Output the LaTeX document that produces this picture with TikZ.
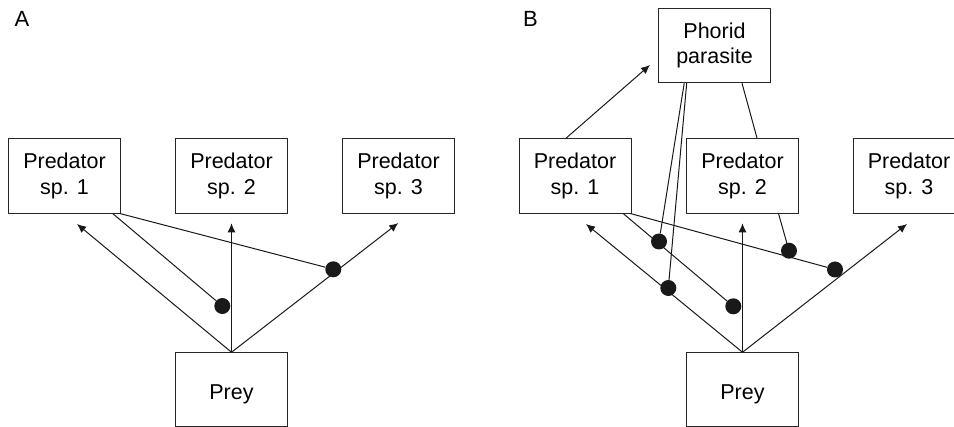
\documentclass[tikz,border=0pt]{standalone}
\usepackage{fontspec}
\setmainfont{Liberation Sans}
\usetikzlibrary{arrows.meta,calc}
\begin{document}
\begin{tikzpicture}[x=1pt,y=-1pt,
  box/.style={draw=black!85, line width=1pt, minimum width=112pt, minimum height=74.5pt,
    inner sep=0pt, align=center, font=\fontsize{21.5}{25.5}\selectfont},
  preybox/.style={box, minimum height=73.3pt, text height=21pt, text depth=0pt},
  dot/.style={circle, fill=black!90, minimum size=16pt, inner sep=0pt},
  link/.style={line width=1pt, black!90},
  arr/.style={link, -{Latex[length=9pt,width=8pt]}},
  lab/.style={font=\fontsize{22}{25.5}\selectfont, inner sep=0pt, anchor=base west}]
\clip (0,0) rectangle (954,427);
% labels
\node[lab] (la) at (14.3,27) {A};
\node[lab] (lb) at (522.8,26.7) {B};
% panel A boxes
\node[box] (a1) at (64.5,175.8) {Predator\\sp. 1};
\node[box] (a2) at (231.5,175.8) {Predator\\sp. 2};
\node[box] (a3) at (398.5,175.8) {Predator\\sp. 3};
\node[preybox] (ap) at (231.5,389.4) {Prey};
% panel B boxes
\node[box] (ph) at (714.5,45.5) {Phorid\\parasite};
\node[box] (b1) at (575,175.8) {Predator\\sp. 1};
\node[box] (b2) at (742.5,175.8) {Predator\\sp. 2};
\node[box] (b3) at (909,175.8) {Predator\\sp. 3};
\node[preybox] (bp) at (742.5,389.4) {Prey};
% arrow tips
\coordinate (tA1) at (77,224);
\coordinate (tA2) at (231.5,223.3);
\coordinate (tA3) at (398.3,223);
\coordinate (tB1) at (586,224);
\coordinate (tB2) at (742.5,223.3);
\coordinate (tB3) at (907,224);
\coordinate (tPh) at (650,65);
% panel A connectors
\draw[arr] (ap.north) -- (tA1);
\draw[arr] (ap.north) -- (tA2);
\draw[arr] (ap.north) -- (tA3);
% panel B connectors
\draw[arr] (bp.north) -- (tB1);
\draw[arr] (bp.north) -- (tB2);
\draw[arr] (bp.north) -- (tB3);
\draw[arr] ($(b1.north west)+(47.7,0)$) -- (tPh);
% dots
\node[dot] (dA1) at (222.3,306) {};
\node[dot] (dA2) at (333.3,269.3) {};
\node[dot] (dB1) at (659,241.5) {};
\node[dot] (dB2) at (668.3,288) {};
\node[dot] (dB3) at (733.3,306.3) {};
\node[dot] (dB4) at (789,250.7) {};
\node[dot] (dB5) at (835,269.5) {};
% modifier links
\draw[link] ($(a1.south east)+(-8.3,0)$) -- (dA1);
\draw[link] ($(a1.south east)+(-1,0)$) -- (dA2);
\draw[link] ($(b1.south east)+(-8.3,0)$) -- (dB3);
\draw[link] ($(b1.south east)+(-1,0)$) -- (dB5);
\draw[link] ($(ph.south west)+(26.2,0)$) -- (dB1);
\draw[link] ($(ph.south west)+(28.7,0)$) -- (dB2);
\draw[link] ($(ph.south west)+(84,0)$) -- ($(b2.north west)+(71,0)$);
\draw[link] ($(b2.south west)+(92.5,0)$) -- (dB4);
\end{tikzpicture}
\end{document}
